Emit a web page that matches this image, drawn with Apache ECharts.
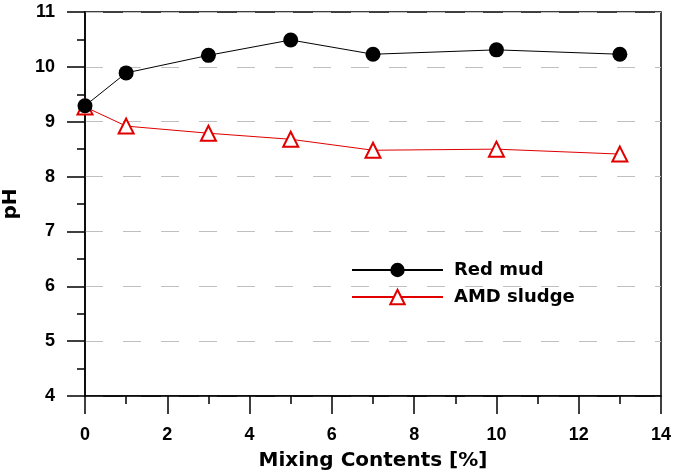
<!DOCTYPE html>
<html><head><meta charset="utf-8">
<script src="https://cdn.jsdelivr.net/npm/echarts@6/dist/echarts.min.js"></script>
<style>html,body{margin:0;padding:0;background:#fff}#c{width:673px;height:475px}</style>
</head><body><div id="c"></div>
<script>
const mixing = [0, 1, 3, 5, 7, 10, 13];
const redMud = [9.29, 9.89, 10.21, 10.49, 10.23, 10.31, 10.23];
const amdSludge = [9.27, 8.92, 8.79, 8.68, 8.48, 8.50, 8.41];
const seriesNames = ['Red mud', 'AMD sludge'];

const font = '"Liberation Sans", Arial, sans-serif';
const wide = '"DejaVu Sans", sans-serif';
const chart = echarts.init(document.getElementById('c'));
chart.setOption({
  animation: false,
  backgroundColor: '#fff',
  grid: {left: 85, right: 12, top: 12, bottom: 79, containLabel: false, outerBoundsMode: 'none',
         show: true, borderColor: '#000', borderWidth: 1.5, backgroundColor: 'transparent'},
  legend: {
    left: 346, top: 256, orient: 'vertical', itemWidth: 91, itemHeight: 18, itemGap: 9,
    textStyle: {fontFamily: wide, fontWeight: 'bold', fontSize: 18, color: '#000', padding: [0,0,0,6]},
    data: seriesNames
  },
  xAxis: {
    type: 'value', min: 0, max: 14, interval: 2,
    name: 'Mixing Contents [%]', nameLocation: 'middle', nameGap: 55,
    nameTextStyle: {fontFamily: wide, fontWeight: 'bold', fontSize: 20, color: '#000'},
    axisLine: {show: true, lineStyle: {color: '#000', width: 1.5}},
    axisTick: {show: true, inside: false, length: 18, lineStyle: {color: '#000', width: 1.5}},
    minorTick: {show: true, splitNumber: 2, length: 8, lineStyle: {color: '#000', width: 1.5}},
    axisLabel: {fontFamily: font, fontWeight: 'bold', fontSize: 18, color: '#000', margin: 30},
    splitLine: {show: false}
  },
  yAxis: {
    type: 'value', min: 4, max: 11, interval: 1,
    name: 'pH', nameLocation: 'middle', nameGap: 64,
    nameTextStyle: {fontFamily: wide, fontWeight: 'bold', fontSize: 20, color: '#000'},
    axisLine: {show: true, lineStyle: {color: '#000', width: 1.5}},
    axisTick: {show: true, inside: false, length: 18, lineStyle: {color: '#000', width: 1.5}},
    minorTick: {show: true, splitNumber: 2, length: 8, lineStyle: {color: '#000', width: 1.5}},
    axisLabel: {fontFamily: font, fontWeight: 'bold', fontSize: 18, color: '#000', margin: 30},
    splitLine: {show: true, lineStyle: {color: '#c0c0c0', width: 1, type: [18, 20]}}
  },
  series: [
    {
      name: seriesNames[1], type: 'line', z: 2,
      data: mixing.map((x, i) => [x, amdSludge[i]]),
      symbol: 'triangle', symbolSize: 15,
      lineStyle: {color: '#e00000', width: 1},
      itemStyle: {color: '#fff', borderColor: '#e00000', borderWidth: 2},
      color: '#e00000'
    },
    {
      name: seriesNames[0], type: 'line', z: 3,
      data: mixing.map((x, i) => [x, redMud[i]]),
      symbol: 'circle', symbolSize: 15,
      lineStyle: {color: '#000', width: 1},
      itemStyle: {color: '#000'},
      color: '#000'
    }
  ]
});
</script></body></html>
